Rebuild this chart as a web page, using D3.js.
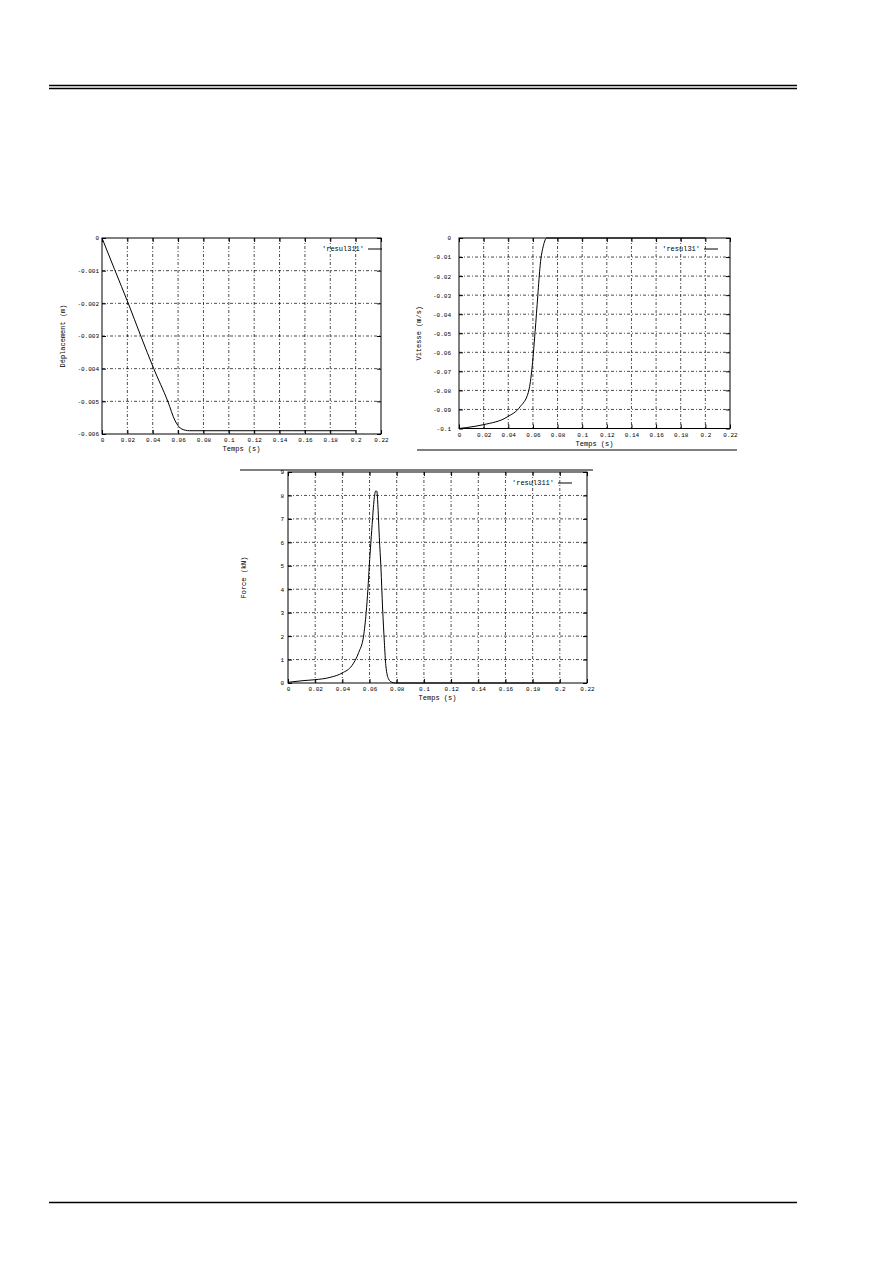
<!DOCTYPE html>
<html><head><meta charset="utf-8">
<script src="https://cdn.jsdelivr.net/npm/d3@7"></script>
<style>body{margin:0;background:#fff}svg{display:block}text{font-family:"Liberation Mono","DejaVu Sans Mono",monospace;fill:#000}</style>
</head><body>
<svg id="page" width="892" height="1263"></svg>
<script>
// ---- data ----
const timeTicks = [0,0.02,0.04,0.06,0.08,0.1,0.12,0.14,0.16,0.18,0.2,0.22];
const timeTickLabels = ["0","0.02","0.04","0.06","0.08","0.1","0.12","0.14","0.16","0.18","0.2","0.22"];

const dispTicks = [0,-0.001,-0.002,-0.003,-0.004,-0.005,-0.006];
const dispTickLabels = ["0","-0.001","-0.002","-0.003","-0.004","-0.005","-0.006"];
const dispTime = [0,0.01,0.0208,0.0306,0.0408,0.0519,0.0577,0.063,0.069,0.08,0.1,0.15,0.2];
const dispValue = [0,-0.00097,-0.00201,-0.0030,-0.0040,-0.0050,-0.0056,-0.00585,-0.0059,-0.0059,-0.0059,-0.0059,-0.0059];

const velTicks = [0,-0.01,-0.02,-0.03,-0.04,-0.05,-0.06,-0.07,-0.08,-0.09,-0.1];
const velTickLabels = ["0","-0.01","-0.02","-0.03","-0.04","-0.05","-0.06","-0.07","-0.08","-0.09","-0.1"];
const velTime = [0,0.0063,0.0198,0.039,0.0496,0.0563,0.059,0.0618,0.064,0.0659,0.0686,0.0713,0.08,0.2];
const velValue = [-0.1,-0.0995,-0.098,-0.094,-0.0886,-0.081,-0.070,-0.049,-0.030,-0.0143,-0.0038,0,0,0];

const forceTicks = [0,1,2,3,4,5,6,7,8,9];
const forceTickLabels = ["0","1","2","3","4","5","6","7","8","9"];
const forceTime = [0,0.011,0.0198,0.031,0.040,0.047,0.052,0.0556,0.0575,0.0588,0.0598,0.061,0.0622,0.0635,0.0647,0.0654,0.0662,0.0672,0.0684,0.0696,0.0709,0.072,0.074,0.0765,0.079,0.1,0.2];
const forceValue = [0.03,0.1,0.14,0.24,0.43,0.74,1.3,2.0,3.0,4.0,5.0,6.0,7.0,7.9,8.2,8.17,7.5,6.2,4.9,3.2,1.74,0.74,0.17,0.03,0,0,0];

const svg = d3.select("#page");

// page rules
svg.append("line").attr("x1",49).attr("x2",797).attr("y1",85.5).attr("y2",85.5).attr("stroke","#000").attr("stroke-width",1.5);
svg.append("line").attr("x1",49).attr("x2",797).attr("y1",88.5).attr("y2",88.5).attr("stroke","#000").attr("stroke-width",1.5);
svg.append("line").attr("x1",49).attr("x2",797).attr("y1",1202.5).attr("y2",1202.5).attr("stroke","#000").attr("stroke-width",1.5);

function chart(o){
  const g = svg.append("g");
  const x = d3.scaleLinear().domain([0,0.22]).range([o.l,o.r]);
  const y = d3.scaleLinear().domain(o.yDomain).range([o.b,o.t]);
  // grid
  g.selectAll(".gx").data(timeTicks.slice(1,-1)).join("line")
    .attr("x1",d=>x(d)).attr("x2",d=>x(d)).attr("y1",o.t).attr("y2",o.b)
    .attr("stroke","#000").attr("stroke-width",0.7).attr("stroke-dasharray","3,2,1,2");
  g.selectAll(".gy").data(o.yTicks.filter(d=>d!==o.yDomain[0]&&d!==o.yDomain[1])).join("line")
    .attr("y1",d=>y(d)).attr("y2",d=>y(d)).attr("x1",o.l).attr("x2",o.r)
    .attr("stroke","#000").attr("stroke-width",0.7).attr("stroke-dasharray","3,2,1,2");
  // axes (ticks inward on all sides)
  const tl = 4;
  g.append("g").attr("transform",`translate(0,${o.b})`)
    .call(d3.axisBottom(x).tickValues(timeTicks).tickFormat((d,i)=>timeTickLabels[i]).tickSizeInner(-tl).tickSizeOuter(0).tickPadding(4))
    .call(a=>{a.select(".domain").remove();a.selectAll("text").attr("font-size",6).attr("font-family","Liberation Mono").attr("fill","#000");});
  g.append("g").attr("transform",`translate(0,${o.t})`)
    .call(d3.axisTop(x).tickValues(timeTicks).tickFormat("").tickSizeInner(-tl).tickSizeOuter(0))
    .call(a=>a.select(".domain").remove());
  g.append("g").attr("transform",`translate(${o.l},0)`)
    .call(d3.axisLeft(y).tickValues(o.yTicks).tickFormat((d,i)=>o.yLabels[i]).tickSizeInner(-tl).tickSizeOuter(0).tickPadding(o.yPad))
    .call(a=>{a.select(".domain").remove();a.selectAll("text").attr("font-size",6).attr("font-family","Liberation Mono").attr("fill","#000");});
  g.append("g").attr("transform",`translate(${o.r},0)`)
    .call(d3.axisRight(y).tickValues(o.yTicks).tickFormat("").tickSizeInner(-tl).tickSizeOuter(0))
    .call(a=>a.select(".domain").remove());
  g.append("rect").attr("x",o.l).attr("y",o.t).attr("width",o.r-o.l).attr("height",o.b-o.t)
    .attr("fill","none").attr("stroke","#000").attr("stroke-width",1);
  // curve
  const pts = o.time.map((t,i)=>[t,o.vals[i]]);
  g.append("path").datum(pts)
    .attr("d",d3.line().x(d=>x(d[0])).y(d=>y(d[1])).curve(d3.curveMonotoneX))
    .attr("fill","none").attr("stroke","#000").attr("stroke-width",1);
  // legend
  g.append("text").attr("x",o.legX).attr("y",o.t+13).attr("text-anchor","end").attr("font-size",7).text(o.legend);
  g.append("line").attr("x1",o.legX+4).attr("x2",o.legX+18).attr("y1",o.t+11).attr("y2",o.t+11).attr("stroke","#000").attr("stroke-width",1);
  // titles
  g.append("text").attr("x",(o.l+o.r)/2).attr("y",o.b+17).attr("text-anchor","middle").attr("font-size",7).text("Temps (s)");
  g.append("text").attr("transform",`translate(${o.ytX},${(o.t+o.b)/2}) rotate(-90)`).attr("text-anchor","middle").attr("font-size",7).text(o.yTitle);
  return g;
}

chart({l:102,r:381,t:238,b:434,yDomain:[-0.006,0],yTicks:dispTicks,yLabels:dispTickLabels,yPad:3,
  time:dispTime,vals:dispValue,legend:"'resul311'",legX:364,yTitle:"Déplacement (m)",ytX:65});
chart({l:459,r:730,t:238,b:428.5,yDomain:[-0.1,0],yTicks:velTicks,yLabels:velTickLabels,yPad:8,
  time:velTime,vals:velValue,legend:"'resul31'",legX:700,yTitle:"Vitesse (m/s)",ytX:421});
svg.append("line").attr("x1",417).attr("x2",737).attr("y1",450).attr("y2",450).attr("stroke","#000").attr("stroke-width",1.2);
chart({l:288,r:587,t:472,b:683,yDomain:[0,9],yTicks:forceTicks,yLabels:forceTickLabels,yPad:4,
  time:forceTime,vals:forceValue,legend:"'resul311'",legX:554,yTitle:"Force (kN)",ytX:246});
svg.append("line").attr("x1",240).attr("x2",593).attr("y1",470).attr("y2",470).attr("stroke","#000").attr("stroke-width",1.2);
</script>
</body></html>
